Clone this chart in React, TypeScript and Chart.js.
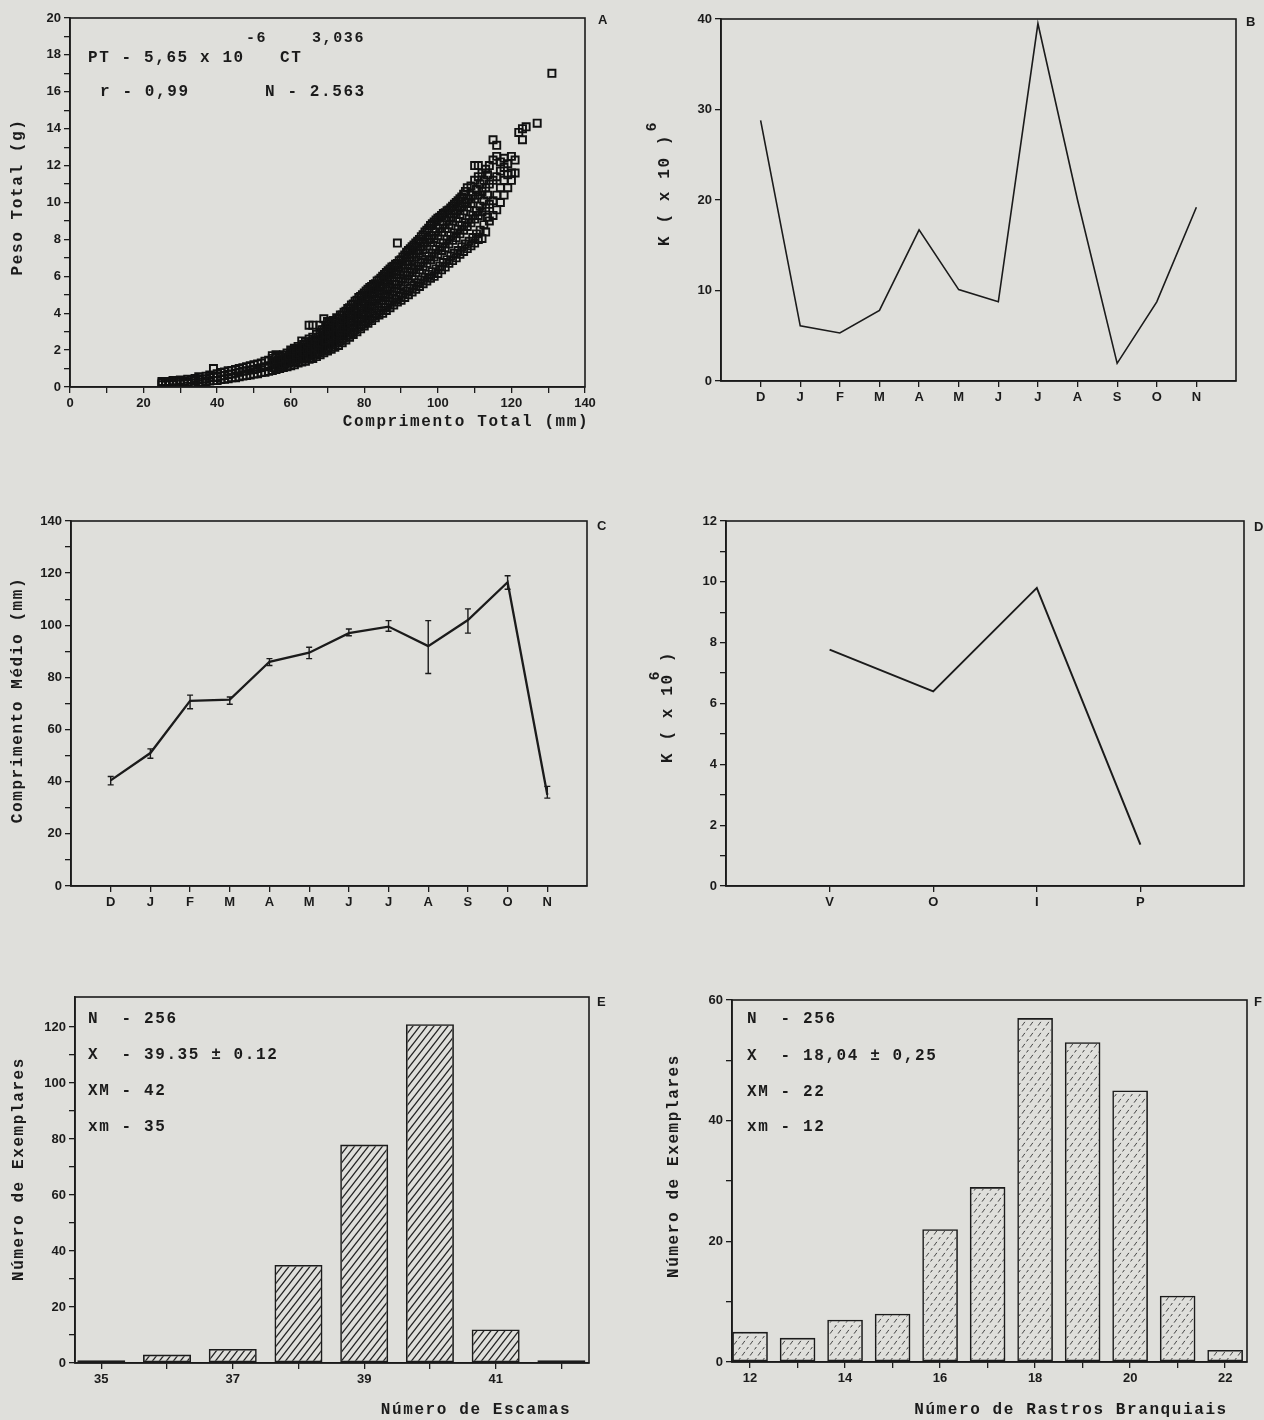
import React, { useEffect, useRef } from "react";
import { Chart, registerables } from "chart.js";
Chart.register(...registerables);

const PAGE_W = 1264;
const PAGE_H = 1420;
const INK = "#1b1b1b";
const PAPER = "#dfdfdb";

// ---------------- DATA ----------------
// A: Peso total (g) x Comprimento total (mm): each entry = [comprimento, pesos observados]
const lengthWeightColumns: [number, number[]][] = [
  [25, [0.12, 0.22, 0.3]], [26, [0.1, 0.2, 0.3]], [27, [0.15, 0.28]], [28, [0.12, 0.22, 0.35]],
  [29, [0.18, 0.3]], [30, [0.15, 0.25, 0.38]], [31, [0.2, 0.32]], [32, [0.18, 0.28, 0.42]],
  [33, [0.22, 0.36]], [34, [0.2, 0.32, 0.46]], [35, [0.25, 0.4, 0.55]], [36, [0.28, 0.45]],
  [37, [0.3, 0.42, 0.58]], [38, [0.32, 0.5, 0.65]], [39, [0.35, 0.55, 1.0]], [40, [0.35, 0.52, 0.72]],
  [41, [0.4, 0.6, 0.78]], [42, [0.42, 0.62, 0.82]], [43, [0.45, 0.68, 0.88]], [44, [0.5, 0.7, 0.9]],
  [45, [0.5, 0.75, 0.95]], [46, [0.55, 0.8, 1.0]], [47, [0.6, 0.85, 1.05]], [48, [0.62, 0.88, 1.1]],
  [49, [0.65, 0.92, 1.15]], [50, [0.7, 0.95, 1.2]], [51, [0.72, 1.0, 1.25]], [52, [0.78, 1.05, 1.3]],
  [53, [0.8, 1.1, 1.4]], [54, [0.85, 1.15, 1.45]], [55, [0.9, 1.2, 1.55, 1.7]], [56, [0.95, 1.25, 1.6, 1.75]],
  [57, [1.0, 1.3, 1.65]], [58, [1.05, 1.4, 1.75]], [59, [1.1, 1.45, 1.85]], [60, [1.15, 1.5, 1.8, 2.0]],
  [61, [1.2, 1.55, 1.9, 2.1]], [62, [1.3, 1.65, 2.0, 2.2]], [63, [1.35, 1.7, 2.05, 2.5]], [64, [1.4, 1.8, 2.15, 2.45]],
  [65, [1.5, 1.85, 2.25, 2.6, 3.35]], [66, [1.55, 1.95, 2.3, 2.7, 3.35]], [67, [1.65, 2.05, 2.45, 2.85]],
  [68, [1.75, 2.15, 2.55, 2.95, 3.35]], [69, [1.85, 2.25, 2.7, 3.1, 3.7]], [70, [1.95, 2.4, 2.85, 3.3, 3.55]],
  [71, [2.05, 2.5, 2.95, 3.4]], [72, [2.15, 2.6, 3.1, 3.55]], [73, [2.25, 2.75, 3.25, 3.7]], [74, [2.4, 2.9, 3.4, 3.9]],
  [75, [2.55, 3.05, 3.6, 4.1]], [76, [2.7, 3.2, 3.75, 4.3]], [77, [2.85, 3.35, 3.9, 4.5]], [78, [3.0, 3.55, 4.1, 4.7]],
  [79, [3.15, 3.7, 4.3, 4.9]], [80, [3.3, 3.9, 4.5, 5.1]], [81, [3.45, 4.05, 4.7, 5.3]], [82, [3.6, 4.25, 4.9, 5.45]],
  [83, [3.75, 4.4, 5.05, 5.6]], [84, [3.9, 4.55, 5.2, 5.8]], [85, [4.0, 4.7, 5.4, 6.0]], [86, [4.15, 4.9, 5.6, 6.2]],
  [87, [4.3, 5.05, 5.8, 6.4]], [88, [4.45, 5.2, 5.95, 6.55]], [89, [4.6, 5.35, 6.1, 6.7, 7.8]], [90, [4.7, 5.5, 6.25, 6.9]],
  [91, [4.85, 5.7, 6.45, 7.15]], [92, [5.0, 5.85, 6.65, 7.4]], [93, [5.15, 6.0, 6.85, 7.6]], [94, [5.3, 6.2, 7.05, 7.8]],
  [95, [5.45, 6.35, 7.25, 8.0]], [96, [5.6, 6.55, 7.45, 8.25]], [97, [5.75, 6.7, 7.65, 8.5]], [98, [5.9, 6.9, 7.85, 8.75]],
  [99, [6.0, 7.05, 8.05, 8.95]], [100, [6.15, 7.2, 8.2, 9.15]], [101, [6.35, 7.4, 8.4, 9.3]], [102, [6.5, 7.55, 8.6, 9.45]],
  [103, [6.7, 7.75, 8.8, 9.6]], [104, [6.85, 7.95, 9.0, 9.8]], [105, [7.0, 8.1, 9.15, 10.0]], [106, [7.2, 8.3, 9.35, 10.2]],
  [107, [7.35, 8.5, 9.55, 10.45]], [108, [7.5, 8.7, 9.75, 10.8]], [109, [7.65, 8.9, 9.95, 10.9]],
  [110, [7.8, 9.1, 10.2, 11.2, 12.0]], [111, [8.0, 9.3, 10.4, 11.4, 12.0]], [112, [8.05, 9.5, 10.6, 11.6]],
  [113, [8.4, 9.7, 10.8, 11.8]], [114, [9.0, 9.9, 11.0, 12.0]], [115, [9.3, 10.1, 11.2, 12.3, 13.4]],
  [116, [9.6, 10.4, 11.4, 12.5, 13.1]], [117, [10.0, 10.8, 11.7, 12.2]], [118, [10.4, 11.2, 11.9, 12.4]],
  [119, [10.8, 11.5, 12.1]], [120, [11.2, 11.6, 12.5]], [121, [11.6, 12.3]], [122, [13.8]], [123, [13.4, 14.0]],
  [124, [14.1]], [127, [14.3]], [131, [17.0]],
];
// A (cont.): the densest part of the cloud, read at half-millimetre positions
const lengthWeightColumnsHalf: [number, number[]][] = [
  [55.5, [1.05, 1.38]], [56.5, [1.1, 1.45]], [57.5, [1.15, 1.5]], [58.5, [1.25, 1.6]], [59.5, [1.3, 1.68]],
  [60.5, [1.35, 1.7, 1.95]], [61.5, [1.4, 1.75, 2.05]], [62.5, [1.5, 1.85, 2.1]], [63.5, [1.55, 1.9, 2.3]],
  [64.5, [1.62, 2.0, 2.35]], [65.5, [1.7, 2.1, 2.45]], [66.5, [1.78, 2.2, 2.55]], [67.5, [1.85, 2.3, 2.7]],
  [68.5, [1.95, 2.4, 2.8, 3.1]], [69.5, [2.05, 2.5, 2.95, 3.3]], [70.5, [2.15, 2.65, 3.1, 3.45]],
  [71.5, [2.3, 2.75, 3.2, 3.6]], [72.5, [2.4, 2.9, 3.35, 3.75]], [73.5, [2.5, 3.0, 3.5, 3.9]],
  [74.5, [2.65, 3.2, 3.7, 4.05]], [75.5, [2.8, 3.35, 3.85, 4.25]], [76.5, [2.95, 3.5, 4.0, 4.45]],
  [77.5, [3.1, 3.65, 4.2, 4.65]], [78.5, [3.25, 3.8, 4.4, 4.85]], [79.5, [3.4, 4.0, 4.6, 5.0]],
  [80.5, [3.55, 4.2, 4.8, 5.2]], [81.5, [3.7, 4.35, 5.0, 5.4]], [82.5, [3.85, 4.5, 5.15, 5.55]],
  [83.5, [4.0, 4.7, 5.35, 5.75]], [84.5, [4.15, 4.85, 5.5, 5.9]], [85.5, [4.3, 5.0, 5.7, 6.1]],
  [86.5, [4.45, 5.2, 5.9, 6.3]], [87.5, [4.6, 5.35, 6.1, 6.5]], [88.5, [4.75, 5.55, 6.25, 6.65]],
  [89.5, [4.9, 5.7, 6.45, 6.85]], [90.5, [5.05, 5.85, 6.6, 7.05]], [91.5, [5.2, 6.05, 6.8, 7.3]],
  [92.5, [5.35, 6.2, 7.0, 7.5]], [93.5, [5.5, 6.4, 7.2, 7.7]], [94.5, [5.65, 6.55, 7.4, 7.9]],
  [95.5, [5.8, 6.75, 7.6, 8.15]], [96.5, [5.95, 6.9, 7.8, 8.4]], [97.5, [6.1, 7.1, 8.0, 8.6]],
  [98.5, [6.25, 7.25, 8.2, 8.85]], [99.5, [6.4, 7.45, 8.4, 9.05]], [100.5, [6.55, 7.6, 8.6, 9.2]],
  [101.5, [6.75, 7.8, 8.8, 9.4]], [102.5, [6.9, 8.0, 9.0, 9.55]], [103.5, [7.1, 8.2, 9.2, 9.7]],
  [104.5, [7.25, 8.35, 9.4, 9.9]], [105.5, [7.4, 8.55, 9.6, 10.1]], [106.5, [7.6, 8.75, 9.8, 10.3]],
  [107.5, [7.75, 8.9, 10.0, 10.6]], [108.5, [7.9, 9.1, 10.2]], [109.5, [8.1, 9.3, 10.4]],
  [110.5, [8.3, 9.55, 10.7]], [111.5, [8.5, 9.8, 11.0]], [112.5, [8.8, 10.1, 11.2]], [113.5, [9.2, 10.4, 11.5]],
];
const ticksAx = [0, 10, 20, 30, 40, 50, 60, 70, 80, 90, 100, 110, 120, 130, 140];
const ticksAy = [0, 1, 2, 3, 4, 5, 6, 7, 8, 9, 10, 11, 12, 13, 14, 15, 16, 17, 18, 19, 20];

// B: K (x 10^6) mensal
const monthLabels = ["D", "J", "F", "M", "A", "M", "J", "J", "A", "S", "O", "N"];
const kMonthly = [28.8, 6.1, 5.3, 7.8, 16.7, 10.1, 8.75, 39.5, 20.0, 1.95, 8.75, 19.2];
const ticksBy = [0, 10, 20, 30, 40];

// C: Comprimento medio (mm) mensal, com intervalo
const lengthMean = [40.5, 51, 71, 71.5, 86, 89.5, 97, 99.5, 92, 102, 116.5, 35];
const lengthLow = [38.8, 49, 68, 69.7, 84.6, 87.2, 96, 97.7, 81.5, 97, 113.8, 33.7];
const lengthHigh = [42, 52.6, 73.2, 72.5, 87.2, 91.6, 98.6, 101.8, 101.8, 106.3, 119, 38.2];
const ticksCy = [0, 10, 20, 30, 40, 50, 60, 70, 80, 90, 100, 110, 120, 130, 140];

// D: K (x 10^6) por estacao
const seasonLabels = ["V", "O", "I", "P"];
const kSeasonal = [7.77, 6.4, 9.8, 1.36];
const ticksDy = [0, 1, 2, 3, 4, 5, 6, 7, 8, 9, 10, 11, 12];

// E: Numero de escamas
const scaleCounts = [35, 36, 37, 38, 39, 40, 41, 42];
const scaleFreq = [1, 3, 5, 35, 78, 121, 12, 1];
const ticksEy = [0, 10, 20, 30, 40, 50, 60, 70, 80, 90, 100, 110, 120];

// F: Numero de rastros branquiais
const rakerCounts = [12, 13, 14, 15, 16, 17, 18, 19, 20, 21, 22];
const rakerFreq = [5, 4, 7, 8, 22, 29, 57, 53, 45, 11, 2];
const ticksFy = [0, 10, 20, 30, 40, 50, 60];

// ---------------- LAYOUT ----------------
type Frame = { l: number; t: number; r: number; b: number };
const frameA: Frame = { l: 70, t: 18, r: 585, b: 387 };
const frameB: Frame = { l: 721, t: 19, r: 1236, b: 381 };
const frameC: Frame = { l: 71, t: 521, r: 587, b: 886 };
const frameD: Frame = { l: 726, t: 521, r: 1244, b: 886 };
const frameE: Frame = { l: 75, t: 997, r: 589, b: 1363 };
const frameF: Frame = { l: 732, t: 1000, r: 1247, b: 1362 };

const YW = 42;
const XH = 24;
const TICK_FONT = { family: '"Liberation Sans", Arial, sans-serif', size: 13, weight: "bold" as const };
const MONO = 'bold 16px "Liberation Mono", "DejaVu Sans Mono", monospace';
const MONO_SUP = 'bold 15px "Liberation Mono", "DejaVu Sans Mono", monospace';
const LETTER = 'bold 13px "Liberation Sans", Arial, sans-serif';
const SPACING = "1.6px";

function axis(pos: "left" | "bottom", min: number, max: number, ticks: number[], label: (v: number) => string) {
  return {
    type: "linear",
    position: pos,
    min,
    max,
    offset: false,
    afterBuildTicks: (s: any) => {
      s.ticks = ticks.map((v) => ({ value: v }));
    },
    afterFit: (s: any) => {
      if (pos === "left") s.width = YW;
      else s.height = XH;
    },
    ticks: {
      autoSkip: false,
      maxRotation: 0,
      minRotation: 0,
      padding: 3,
      color: INK,
      font: TICK_FONT,
      callback: (v: any) => label(Number(v)),
    },
    grid: { drawOnChartArea: false, drawTicks: true, tickLength: 6, offset: false, color: INK, lineWidth: 1.3 },
    border: { display: true, color: INK, width: 1.6 },
  };
}

function opts(f: Frame, x: any, y: any): any {
  return {
    responsive: false,
    animation: false,
    devicePixelRatio: 1,
    events: [],
    layout: { padding: { left: f.l - YW, top: f.t, right: PAGE_W - f.r, bottom: PAGE_H - f.b - XH } },
    plugins: { legend: { display: false }, tooltip: { enabled: false }, title: { display: false } },
    scales: { x, y },
  };
}

function txt(ctx: CanvasRenderingContext2D, s: string, x: number, y: number, align: CanvasTextAlign = "left", rot = false, font = MONO, spacing = SPACING) {
  ctx.save();
  ctx.font = font;
  ctx.fillStyle = INK;
  ctx.textBaseline = "middle";
  ctx.textAlign = align;
  (ctx as any).letterSpacing = spacing;
  ctx.translate(x, y);
  if (rot) ctx.rotate(-Math.PI / 2);
  ctx.fillText(s, 0, 0);
  ctx.restore();
}

function deco(draw: (ctx: CanvasRenderingContext2D, chart: any) => void) {
  return {
    id: "deco",
    afterDraw(chart: any) {
      const ctx: CanvasRenderingContext2D = chart.ctx;
      const a = chart.chartArea;
      ctx.save();
      ctx.strokeStyle = INK;
      ctx.lineWidth = 1.6;
      ctx.strokeRect(a.left, a.top, a.right - a.left, a.bottom - a.top);
      ctx.restore();
      draw(ctx, chart);
    },
  };
}

function hatch(ctx: CanvasRenderingContext2D, w: number, h: number, color: string, lw: number, dash?: number[]) {
  const c = document.createElement("canvas");
  c.width = w;
  c.height = h;
  const g = c.getContext("2d")!;
  g.strokeStyle = color;
  g.lineWidth = lw;
  if (dash) g.setLineDash(dash);
  for (const dx of [-w, 0, w]) {
    g.beginPath();
    g.moveTo(-w + dx, 2 * h);
    g.lineTo(2 * w + dx, -h);
    g.stroke();
  }
  return ctx.createPattern(c, "repeat")!;
}

// ---------------- CHARTS ----------------
function buildA(c: HTMLCanvasElement) {
  const pts: { x: number; y: number }[] = [];
  [...lengthWeightColumns, ...lengthWeightColumnsHalf].forEach(([x, ys]) => ys.forEach((y) => pts.push({ x, y })));
  return new Chart(c, {
    type: "scatter",
    data: {
      datasets: [
        {
          data: pts,
          pointStyle: "rect",
          pointRadius: 5,
          borderColor: "#111",
          borderWidth: 1.9,
          backgroundColor: "rgba(0,0,0,0)",
        },
      ],
    },
    options: opts(
      frameA,
      axis("bottom", 0, 140, ticksAx, (v) => (v % 20 === 0 ? String(v) : "")),
      axis("left", 0, 20, ticksAy, (v) => (v % 2 === 0 ? String(v) : ""))
    ),
    plugins: [
      deco((ctx) => {
        txt(ctx, "PT - 5,65 x 10", 88, 58);
        txt(ctx, "-6", 246, 38, "left", false, MONO_SUP);
        txt(ctx, "CT", 280, 58);
        txt(ctx, "3,036", 312, 38, "left", false, MONO_SUP);
        txt(ctx, "r - 0,99", 100, 92);
        txt(ctx, "N - 2.563", 265, 92);
        txt(ctx, "Comprimento Total (mm)", 466, 422, "center");
        txt(ctx, "Peso Total (g)", 18, 197, "center", true);
        txt(ctx, "A", 598, 20, "left", false, LETTER, "0px");
      }),
    ],
  } as any);
}

function buildB(c: HTMLCanvasElement) {
  return new Chart(c, {
    type: "line",
    data: {
      datasets: [
        {
          data: kMonthly.map((v, i) => ({ x: i + 1, y: v })),
          borderColor: INK,
          borderWidth: 1.6,
          pointRadius: 0,
          tension: 0,
          fill: false,
        },
      ],
    },
    options: opts(
      frameB,
      axis("bottom", 0, 13, monthLabels.map((_, i) => i + 1), (v) => monthLabels[v - 1] ?? ""),
      axis("left", 0, 40, ticksBy, (v) => String(v))
    ),
    plugins: [
      deco((ctx) => {
        txt(ctx, "K ( x 10 )", 665, 190, "center", true);
        txt(ctx, "6", 652, 127, "center", true, MONO_SUP, "0px");
        txt(ctx, "B", 1246, 22, "left", false, LETTER, "0px");
      }),
    ],
  } as any);
}

function buildC(c: HTMLCanvasElement) {
  return new Chart(c, {
    type: "line",
    data: {
      datasets: [
        {
          data: lengthMean.map((v, i) => ({ x: i + 1, y: v })),
          borderColor: INK,
          borderWidth: 2.3,
          pointRadius: 0,
          tension: 0,
          fill: false,
        },
      ],
    },
    options: opts(
      frameC,
      axis("bottom", 0, 13, monthLabels.map((_, i) => i + 1), (v) => monthLabels[v - 1] ?? ""),
      axis("left", 0, 140, ticksCy, (v) => (v % 20 === 0 ? String(v) : ""))
    ),
    plugins: [
      {
        id: "errbars",
        afterDatasetsDraw(chart: any) {
          const xs = chart.scales.x;
          const ys = chart.scales.y;
          const ctx: CanvasRenderingContext2D = chart.ctx;
          ctx.save();
          ctx.strokeStyle = INK;
          ctx.lineWidth = 1.4;
          lengthLow.forEach((lo, i) => {
            const x = xs.getPixelForValue(i + 1);
            const y1 = ys.getPixelForValue(lo);
            const y2 = ys.getPixelForValue(lengthHigh[i]);
            ctx.beginPath();
            ctx.moveTo(x, y1);
            ctx.lineTo(x, y2);
            ctx.moveTo(x - 3, y1);
            ctx.lineTo(x + 3, y1);
            ctx.moveTo(x - 3, y2);
            ctx.lineTo(x + 3, y2);
            ctx.stroke();
          });
          ctx.restore();
        },
      },
      deco((ctx) => {
        txt(ctx, "Comprimento Médio (mm)", 18, 700, "center", true);
        txt(ctx, "C", 597, 526, "left", false, LETTER, "0px");
      }),
    ],
  } as any);
}

function buildD(c: HTMLCanvasElement) {
  return new Chart(c, {
    type: "line",
    data: {
      datasets: [
        {
          data: kSeasonal.map((v, i) => ({ x: i + 1, y: v })),
          borderColor: INK,
          borderWidth: 2,
          pointRadius: 0,
          tension: 0,
          fill: false,
        },
      ],
    },
    options: opts(
      frameD,
      axis("bottom", 0, 5, seasonLabels.map((_, i) => i + 1), (v) => seasonLabels[v - 1] ?? ""),
      axis("left", 0, 12, ticksDy, (v) => (v % 2 === 0 ? String(v) : ""))
    ),
    plugins: [
      deco((ctx) => {
        txt(ctx, "K ( x 10 )", 668, 707, "center", true);
        txt(ctx, "6", 655, 676, "center", true, MONO_SUP, "0px");
        txt(ctx, "D", 1254, 527, "left", false, LETTER, "0px");
      }),
    ],
  } as any);
}

function buildE(c: HTMLCanvasElement) {
  const ctx0 = c.getContext("2d")!;
  return new Chart(c, {
    type: "bar",
    data: {
      datasets: [
        {
          data: scaleCounts.map((x, i) => ({ x, y: scaleFreq[i] })),
          backgroundColor: hatch(ctx0, 7, 9, "#222", 1.3),
          borderColor: INK,
          borderWidth: 1.6,
          borderSkipped: false,
          barPercentage: 0.73,
          categoryPercentage: 1,
        },
      ],
    },
    options: opts(
      frameE,
      axis("bottom", 34.6, 42.42, scaleCounts, (v) => (v % 2 === 1 ? String(v) : "")),
      axis("left", 0, 130.7, ticksEy, (v) => (v % 20 === 0 ? String(v) : ""))
    ),
    plugins: [
      deco((ctx) => {
        txt(ctx, "N  - 256", 88, 1019);
        txt(ctx, "X  - 39.35 ± 0.12", 88, 1055);
        txt(ctx, "XM - 42", 88, 1091);
        txt(ctx, "xm - 35", 88, 1127);
        txt(ctx, "Número de Escamas", 476, 1410, "center");
        txt(ctx, "Número de Exemplares", 19, 1169, "center", true);
        txt(ctx, "E", 597, 1002, "left", false, LETTER, "0px");
      }),
    ],
  } as any);
}

function buildF(c: HTMLCanvasElement) {
  const ctx0 = c.getContext("2d")!;
  return new Chart(c, {
    type: "bar",
    data: {
      datasets: [
        {
          data: rakerCounts.map((x, i) => ({ x, y: rakerFreq[i] })),
          backgroundColor: hatch(ctx0, 8, 11, "#3a3a3a", 1, [3, 3]),
          borderColor: INK,
          borderWidth: 1.6,
          borderSkipped: false,
          barPercentage: 0.75,
          categoryPercentage: 1,
        },
      ],
    },
    options: opts(
      frameF,
      axis("bottom", 11.62, 22.46, rakerCounts, (v) => (v % 2 === 0 ? String(v) : "")),
      axis("left", 0, 60, ticksFy, (v) => (v % 20 === 0 ? String(v) : ""))
    ),
    plugins: [
      deco((ctx) => {
        txt(ctx, "N  - 256", 747, 1019);
        txt(ctx, "X  - 18,04 ± 0,25", 747, 1056);
        txt(ctx, "XM - 22", 747, 1092);
        txt(ctx, "xm - 12", 747, 1127);
        txt(ctx, "Número de Rastros Branquiais", 1071, 1410, "center");
        txt(ctx, "Número de Exemplares", 674, 1166, "center", true);
        txt(ctx, "F", 1254, 1002, "left", false, LETTER, "0px");
      }),
    ],
  } as any);
}

function Panel({ build }: { build: (c: HTMLCanvasElement) => Chart }) {
  const ref = useRef<HTMLCanvasElement>(null);
  useEffect(() => {
    const chart = build(ref.current!);
    return () => chart.destroy();
  }, [build]);
  return (
    <canvas
      ref={ref}
      width={PAGE_W}
      height={PAGE_H}
      style={{ position: "absolute", left: 0, top: 0, width: PAGE_W, height: PAGE_H }}
    />
  );
}

export default function App() {
  return (
    <div
      style={{
        position: "absolute",
        left: 0,
        top: 0,
        width: PAGE_W,
        height: PAGE_H,
        background: PAPER,
        overflow: "hidden",
      }}
    >
      <Panel build={buildA} />
      <Panel build={buildB} />
      <Panel build={buildC} />
      <Panel build={buildD} />
      <Panel build={buildE} />
      <Panel build={buildF} />
    </div>
  );
}
